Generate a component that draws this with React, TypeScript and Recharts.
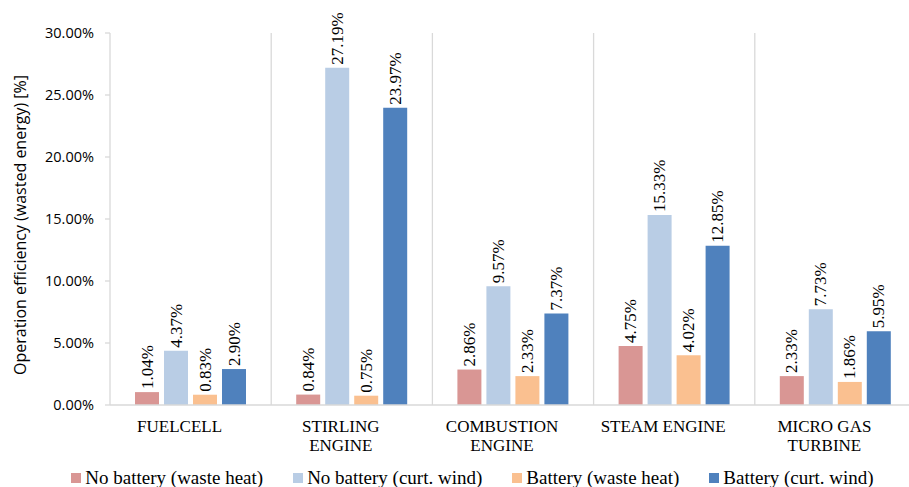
import React from "react";
import { BarChart, Bar, XAxis, YAxis, CartesianGrid, Legend, LabelList } from "recharts";

const categories = ["FUELCELL", "STIRLING ENGINE", "COMBUSTION ENGINE", "STEAM ENGINE", "MICRO GAS TURBINE"];
const categoryLines = [["FUELCELL"], ["STIRLING", "ENGINE"], ["COMBUSTION", "ENGINE"], ["STEAM ENGINE"], ["MICRO GAS", "TURBINE"]];
const noBatteryWasteHeat = [1.04, 0.84, 2.86, 4.75, 2.33];
const noBatteryCurtWind = [4.37, 27.19, 9.57, 15.33, 7.73];
const batteryWasteHeat = [0.83, 0.75, 2.33, 4.02, 1.86];
const batteryCurtWind = [2.9, 23.97, 7.37, 12.85, 5.95];
const yTicks = [0, 5, 10, 15, 20, 25, 30];

const seriesNames = [
  "No battery (waste heat)",
  "No battery (curt. wind)",
  "Battery (waste heat)",
  "Battery (curt. wind)",
];
const seriesKeys = ["nbw", "nbc", "bw", "bc"];
const colors = ["#D99694", "#B9CDE5", "#FAC090", "#4F81BD"];

const data = categories.map((c, i) => ({
  name: c,
  idx: i,
  nbw: noBatteryWasteHeat[i],
  nbc: noBatteryCurtWind[i],
  bw: batteryWasteHeat[i],
  bc: batteryCurtWind[i],
}));

const SERIF = "Liberation Serif";
const SANS = "Open Sans";

const renderValueLabel = (props: any) => {
  const { x, y, width, value } = props;
  const cx = Number(x) + Number(width) / 2;
  const ty = Number(y) - 3;
  return (
    <g>
      <text
        x={0}
        y={0}
        transform={`translate(${cx}, ${ty}) rotate(-90)`}
        textAnchor="start"
        dominantBaseline="central"
        fontFamily={SERIF}
        fontSize={17}
        fill="#000"
        style={{ fontFamily: SERIF }}
      >
        {`${Number(value).toFixed(2)}%`}
      </text>
    </g>
  );
};

const CategoryTick = (props: any) => {
  const { x, y, index } = props;
  const lines = categoryLines[index] || [];
  const tx = x - 11;
  return (
    <text x={tx} y={y} textAnchor="middle" fontFamily={SERIF} fontSize={17} fill="#000">
      {lines.map((l: string, i: number) => (
        <tspan key={i} x={tx} dy={i === 0 ? 26.5 : 19.5}>
          {l}
        </tspan>
      ))}
    </text>
  );
};

const LegendContent = () => (
  <div
    style={{
      display: "flex",
      justifyContent: "center",
      gap: 30,
      paddingLeft: 25,
      height: 20,
      lineHeight: "20px",
      fontFamily: SERIF,
      fontSize: 19,
      color: "#000",
      whiteSpace: "nowrap",
    }}
  >
    {seriesNames.map((n, i) => (
      <div key={n} style={{ display: "flex", alignItems: "center" }}>
        <span style={{ display: "inline-block", width: 10, height: 10, background: colors[i], marginRight: 4 }} />
        <span>{n}</span>
      </div>
    ))}
  </div>
);

const YLabel = (props: any) => {
  const { viewBox } = props;
  const x = viewBox.x + 20;
  const y = viewBox.y + viewBox.height / 2 + 6;
  return (
    <text
      x={x}
      y={y}
      transform={`rotate(-90, ${x}, ${y})`}
      textAnchor="middle"
      dominantBaseline="central"
      fontFamily={SANS}
      fontSize={16}
      fill="#000"
    >
      Operation efficiency (wasted energy) [%]
    </text>
  );
};

export default function App() {
  return (
    <div style={{ position: "absolute", left: 0, top: 0, width: 909, height: 487, overflow: "hidden", background: "#fff" }}>
      <BarChart
        width={920}
        height={487}
        data={data}
        margin={{ top: 33, right: 4, bottom: 0, left: 0 }}
        barSize={24}
        barGap={5}
      >
        <CartesianGrid
          horizontal={false}
          vertical={true}
          stroke="#D9D9D9"
          strokeWidth={1.3}
          verticalCoordinatesGenerator={({ offset }: any) =>
            [1, 2, 3, 4, 5].map((i) => offset.left + (i * offset.width) / 5)
          }
        />
        <XAxis
          dataKey="name"
          height={62}
          axisLine={{ stroke: "#D9D9D9", strokeWidth: 1.3 }}
          tickLine={false}
          tickSize={0}
          tickMargin={0}
          tick={<CategoryTick />}
          interval={0}
        />
        <YAxis
          width={110}
          domain={[0, 30]}
          ticks={yTicks}
          interval={0}
          axisLine={{ stroke: "#D9D9D9", strokeWidth: 1.3 }}
          tickLine={{ stroke: "#D9D9D9", strokeWidth: 1.3 }}
          tickSize={5}
          tickMargin={11}
          tick={{ fontFamily: SANS, fontSize: 14.5, fill: "#000" }}
          tickFormatter={(v: number) => `${v.toFixed(2)}%`}
          label={<YLabel />}
        />
        <Legend
          verticalAlign="bottom"
          content={<LegendContent />}
          wrapperStyle={{ left: 0, top: 468, width: 920 }}
        />
        {seriesKeys.map((k, i) => (
          <Bar key={k} dataKey={k} name={seriesNames[i]} fill={colors[i]} isAnimationActive={false}>
            <LabelList dataKey={k} content={renderValueLabel} />
          </Bar>
        ))}
      </BarChart>
    </div>
  );
}
